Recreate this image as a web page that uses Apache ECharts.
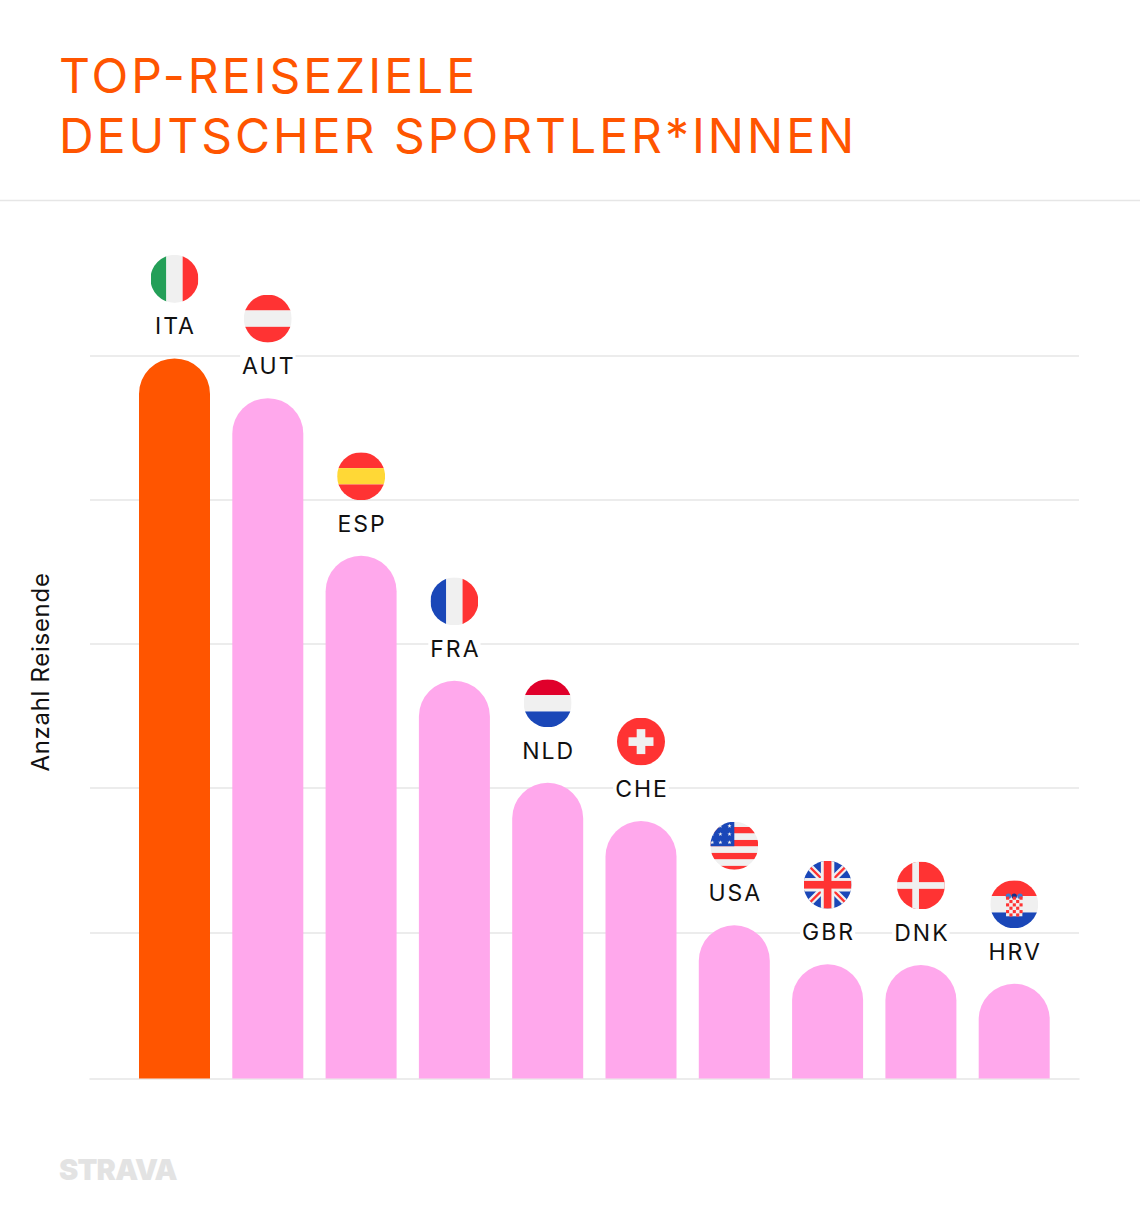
<!DOCTYPE html>
<html>
<head>
<meta charset="utf-8">
<style>
    html, body { margin: 0; background: #fff; }
    #main { width: 1140px; height: 1220px; }
    #main svg text { letter-spacing: 2px; }
    #main svg text[style*="48px"] { letter-spacing: 3px; }
    #main svg text[style*="24px"] { letter-spacing: 0.7px; }
    #main svg text[style*="29px"] { letter-spacing: -0.8px; }
</style>
</head>
<body>
<div id="main"></div>
<script src="https://cdn.jsdelivr.net/npm/echarts@6/dist/echarts.min.js"></script>
<script>
    const categories = ['ITA', 'AUT', 'ESP', 'FRA', 'NLD', 'CHE', 'USA', 'GBR', 'DNK', 'HRV'];
    const travellers = [99.6, 94.1, 72.3, 55.0, 40.9, 35.6, 21.2, 15.8, 15.7, 13.1];
    const yTicks = [0, 20, 40, 60, 80, 100];

    const RED = '#ff3333', WHITE = '#f0f0f0', BLUE = '#1a47b8', GREEN = '#249f58', NLRED = '#e0002b', YEL = '#ffd836';

    const wrap = inner => '<svg xmlns="http://www.w3.org/2000/svg" width="96" height="96" viewBox="0 0 100 100">'
        + '<defs><clipPath id="c"><circle cx="50" cy="50" r="50"/></clipPath></defs><g clip-path="url(#c)">' + inner + '</g></svg>';
    const rect = (x, y, w, h, fill) => `<rect x="${x}" y="${y}" width="${w}" height="${h}" fill="${fill}"/>`;
    const star = (x, y) => `<path transform="translate(${x} ${y}) scale(4.6)" fill="${WHITE}" d="M0-1L.24-.31.95-.31.38.12.59.81 0 .38-.59.81-.38.12-.95-.31-.24-.31Z"/>`;

    // Croatian shield: small red and white squares
    let hrvShield = rect(33, 37, 34, 38, WHITE) + `<circle cx="38" cy="33" r="5.5" fill="#3a7bd5"/><circle cx="50" cy="33" r="5.5" fill="#12308a"/><circle cx="62" cy="33" r="5.5" fill="#3a7bd5"/>`;
    for (let r = 0; r < 6; r++) {
        for (let c = 0; c < 5; c++) {
            if ((r + c) % 2 === 0) hrvShield += rect(33 + c * 7, 34 + r * 7, 6.5, 6.5, RED);
        }
    }
    let usaStripes = rect(0, 0, 100, 100, WHITE);
    [11, 38, 65, 92].forEach(y => { usaStripes += rect(0, y, 100, 13, RED); });

    const flags = {
        ITA: rect(0, 0, 33, 100, GREEN) + rect(33, 0, 34, 100, WHITE) + rect(67, 0, 33, 100, RED),
        AUT: rect(0, 0, 100, 33, RED) + rect(0, 33, 100, 34, WHITE) + rect(0, 67, 100, 33, RED),
        ESP: rect(0, 0, 100, 33, RED) + rect(0, 33, 100, 34, YEL) + rect(0, 67, 100, 33, RED),
        FRA: rect(0, 0, 33, 100, BLUE) + rect(33, 0, 34, 100, WHITE) + rect(67, 0, 33, 100, RED),
        NLD: rect(0, 0, 100, 33, NLRED) + rect(0, 33, 100, 34, WHITE) + rect(0, 67, 100, 33, BLUE),
        CHE: rect(0, 0, 100, 100, RED) + rect(41, 24, 18, 52, WHITE) + rect(24, 41, 52, 18, WHITE),
        USA: usaStripes + rect(0, 0, 50, 51, BLUE)
            + star(40, 9) + star(21, 26) + star(40, 26) + star(21, 43) + star(40, 43) + star(4, 43) + star(21, 9) + star(4, 26),
        GBR: rect(0, 0, 100, 100, BLUE)
            + `<path d="M0 0L100 100M100 0L0 100" stroke="${WHITE}" stroke-width="14"/>`
            + `<path d="M0 0L100 100M100 0L0 100" stroke="${RED}" stroke-width="5"/>`
            + rect(36, 0, 28, 100, WHITE) + rect(0, 36, 100, 28, WHITE)
            + rect(42, 0, 16, 100, RED) + rect(0, 42, 100, 16, RED),
        DNK: rect(0, 0, 100, 100, RED) + rect(32, 0, 14, 100, WHITE) + rect(0, 43, 100, 14, WHITE),
        HRV: rect(0, 0, 100, 33, RED) + rect(0, 33, 100, 34, WHITE) + rect(0, 67, 100, 33, BLUE) + hrvShield
    };
    const flagSymbol = code => 'image://data:image/svg+xml;base64,' + btoa(wrap(flags[code]));

    const FONT = 'Inter';
    const chartDom = document.getElementById('main');
    const myChart = echarts.init(chartDom, null, { renderer: 'svg' });

    const option = {
        animation: false,
        backgroundColor: '#fff',
        title: {
            text: 'TOP-REISEZIELE\nDEUTSCHER SPORTLER*INNEN',
            left: 59,
            top: 45,
            padding: 0,
            textStyle: {
                color: '#ff5500',
                fontFamily: FONT,
                fontSize: 48,
                fontWeight: 400,
                lineHeight: 60
            }
        },
        graphic: [
            {
                type: 'line',
                shape: { x1: 0, y1: 200.5, x2: 1140, y2: 200.5 },
                style: { stroke: '#e6e6e6', lineWidth: 1.5 }
            },
            {
                type: 'text',
                left: 59,
                top: 1155,
                style: {
                    text: 'STRAVA',
                    fill: '#e3e3e3',
                    font: '900 29px Inter'
                }
            }
        ],
        grid: [
            // wide grid only for the gridlines, narrow one for the bars
            { left: 90, right: 61, top: 355.5, height: 721 },
            { left: 127.85, width: 933, top: 355.5, height: 723 }
        ],
        xAxis: [
            {
                type: 'category',
                gridIndex: 0,
                data: categories,
                offset: 2,
                axisTick: { show: false },
                axisLabel: { show: false },
                axisLine: { onZero: false, lineStyle: { color: '#e6e6e6', width: 1.5 } }
            },
            {
                type: 'category',
                gridIndex: 1,
                data: categories,
                show: false
            }
        ],
        yAxis: [
            {
                type: 'value',
                gridIndex: 0,
                min: yTicks[0],
                max: yTicks[yTicks.length - 1],
                interval: yTicks[1] - yTicks[0],
                name: 'Anzahl Reisende',
                nameLocation: 'middle',
                nameGap: 38,
                nameRotate: 90,
                nameTextStyle: {
                    color: '#111',
                    fontFamily: FONT,
                    fontSize: 24,
                    padding: [0, 0, 0, 88]
                },
                axisLine: { show: false },
                axisTick: { show: false },
                axisLabel: { show: false },
                splitLine: { showMinLine: false, lineStyle: { color: '#e6e6e6', width: 1.5 } }
            },
            {
                type: 'value',
                gridIndex: 1,
                min: yTicks[0],
                max: yTicks[yTicks.length - 1],
                show: false
            }
        ],
        series: [
            {
                type: 'bar',
                xAxisIndex: 1,
                yAxisIndex: 1,
                barWidth: 71,
                data: travellers.map((v, i) => ({
                    value: v,
                    itemStyle: { color: i === 0 ? '#ff5500' : '#ffa8ec' }
                })),
                itemStyle: { borderRadius: [35.5, 35.5, 0, 0] },
                label: {
                    show: true,
                    position: 'top',
                    distance: 19.5,
                    formatter: p => categories[p.dataIndex],
                    color: '#111',
                    fontFamily: FONT,
                    fontSize: 23,
                    lineHeight: 25,
                    backgroundColor: '#fff',
                    padding: [0, 3, 0, 5]
                }
            },
            {
                type: 'scatter',
                xAxisIndex: 1,
                yAxisIndex: 1,
                clip: false,
                symbolSize: 48,
                symbolOffset: [0, -79.5],
                itemStyle: { opacity: 1 },
                z: 5,
                data: travellers.map((v, i) => ({
                    value: v,
                    symbol: flagSymbol(categories[i])
                }))
            }
        ]
    };

    option && myChart.setOption(option);
</script>
</body>
</html>
